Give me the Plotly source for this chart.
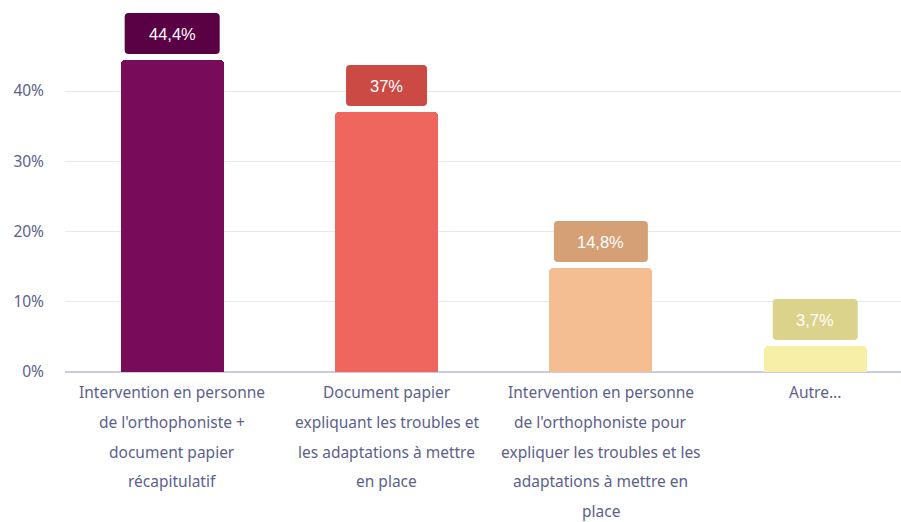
import plotly.graph_objects as go

categories = ["cat1", "cat2", "cat3", "cat4"]
category_lines = [
    ["Intervention en personne", "de l'orthophoniste +", "document papier", "récapitulatif"],
    ["Document papier", "expliquant les troubles et", "les adaptations à mettre", "en place"],
    ["Intervention en personne", "de l'orthophoniste pour", "expliquer les troubles et les", "adaptations à mettre en", "place"],
    ["Autre..."],
]
values = [44.4, 37.0, 14.8, 3.7]
value_labels = ["44,4%", "37%", "14,8%", "3,7%"]
bar_colors = ["#780b5a", "#ee665e", "#f5be92", "#f7eea8"]
box_colors = ["#5a0045", "#cc4a44", "#d6a077", "#dbd28b"]
box_widths = [95, 81, 94, 85]
tick_vals = [0, 10, 20, 30, 40]
tick_text = ["0%", "10%", "20%", "30%", "40%"]

TEXT = "#5c5f8e"
FONT = "Noto Sans"

fig = go.Figure()
fig.add_trace(go.Bar(
    x=list(range(len(categories))), y=values,
    marker=dict(color=bar_colors, cornerradius=4, line=dict(width=0)),
    width=0.48, hoverinfo="skip",
))

def rounded_rect(w, h, r, y0):
    x0, x1 = -w / 2, w / 2
    y1 = y0 + h
    return (f"M {x0+r},{y0} L {x1-r},{y0} Q {x1},{y0} {x1},{y0+r} "
            f"L {x1},{y1-r} Q {x1},{y1} {x1-r},{y1} L {x0+r},{y1} "
            f"Q {x0},{y1} {x0},{y1-r} L {x0},{y0+r} Q {x0},{y0} {x0+r},{y0} Z")

for i, v in enumerate(values):
    fig.add_shape(
        type="path", xref="x", yref="y", xsizemode="pixel", ysizemode="pixel",
        xanchor=i, yanchor=v, path=rounded_rect(box_widths[i], 41, 4, 6),
        fillcolor=box_colors[i], line=dict(width=0), layer="above",
    )
    fig.add_annotation(
        x=i, y=v, xref="x", yref="y", text=value_labels[i], showarrow=False,
        yanchor="middle", yshift=26.5,
        font=dict(family="Liberation Sans, Arial", size=16.5, color="#ffffff"),
    )
    for j, line in enumerate(category_lines[i]):
        fig.add_annotation(
            x=i, y=0, xref="x", yref="y", text=line, showarrow=False,
            yanchor="middle", yshift=-(20 + j * 29.8),
            font=dict(family=FONT, size=15.5, color=TEXT),
        )

fig.update_layout(
    width=901, height=522,
    margin=dict(l=65, r=0, t=10, b=150),
    paper_bgcolor="white", plot_bgcolor="white",
    showlegend=False, bargap=0,
    xaxis=dict(range=[-0.5, 3.40], showticklabels=False, showgrid=False,
               zeroline=False, showline=False, fixedrange=True),
    yaxis=dict(range=[0, 51.53], tickvals=tick_vals, ticktext=tick_text,
               showgrid=True, gridcolor="#e8e8ef", gridwidth=1,
               zeroline=True, zerolinecolor="#c9cbe6", zerolinewidth=2,
               showline=False, ticks="", ticklabelstandoff=20, fixedrange=True,
               tickfont=dict(family=FONT, size=15.5, color=TEXT)),
)

fig.write_html("out.html", config={"displayModeBar": False},
               post_script="document.body.style.margin='0';document.body.style.overflow='hidden';")
